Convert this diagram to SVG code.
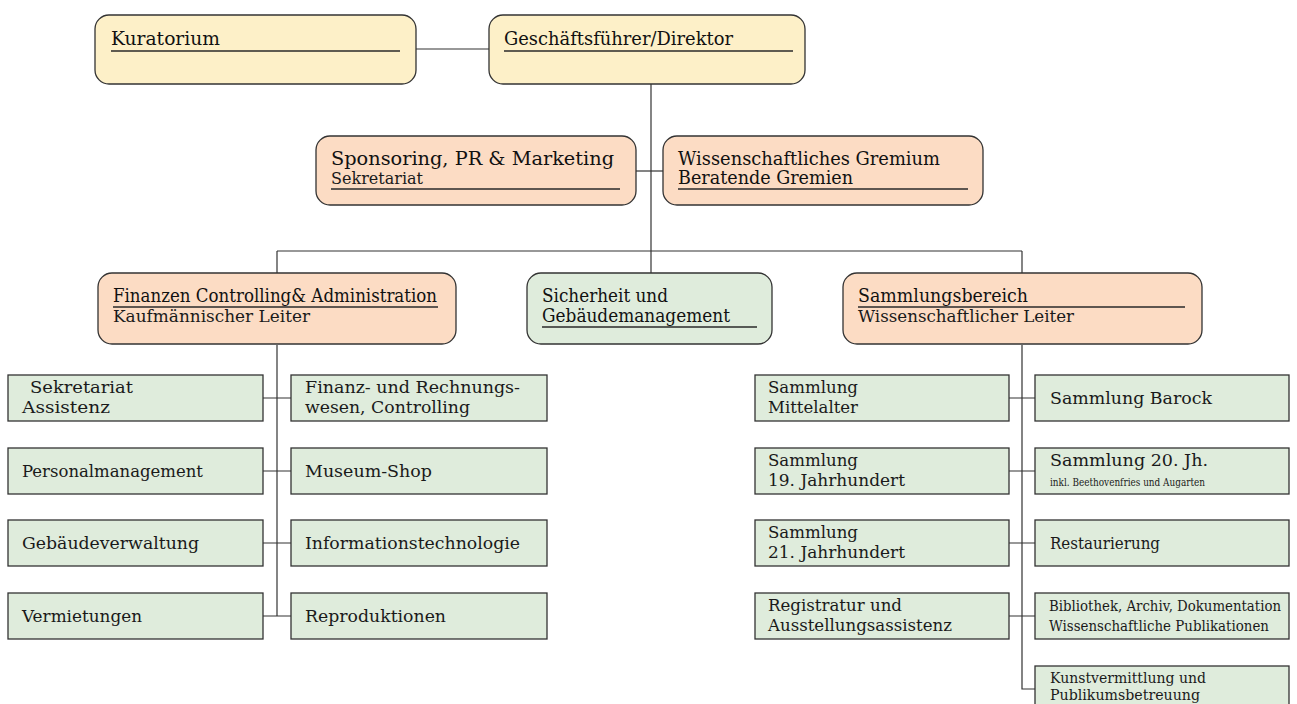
<svg xmlns="http://www.w3.org/2000/svg" width="1297" height="704" viewBox="0 0 1297 704">
<style>
.y{fill:#fdf0c8;stroke:#333333;stroke-width:1.3}
.p{fill:#fcdcc4;stroke:#333333;stroke-width:1.3}
.g{fill:#dfecdc;stroke:#333333;stroke-width:1.3}
.c{fill:none;stroke:#333333;stroke-width:1.2}
.u{stroke:#2a2a2a;stroke-width:1.4}
text{font-family:"DejaVu Serif","Liberation Serif",serif;font-size:17px;fill:#1a1a1a}
.t{font-size:18px;fill:#111111}
.s{font-size:11px}
.m{font-size:15px}
.n{font-size:14px}
</style>
<rect width="1297" height="704" fill="#ffffff"/>
<g id="connectors">
<path class="c" d="M416 49H489"/>
<path class="c" d="M651 84V273"/>
<path class="c" d="M636 171H663"/>
<path class="c" d="M277 251H1022"/>
<path class="c" d="M277 251V273"/>
<path class="c" d="M1022 251V273"/>
<path class="c" d="M277 345V616"/>
<path class="c" d="M263 398H291M263 471H291M263 543H291M263 616H291"/>
<path class="c" d="M1022 345V689H1035"/>
<path class="c" d="M1009 398H1035M1009 471H1035M1009 543H1035M1009 616H1035"/>
</g>
<g id="kuratorium">
<rect class="y" x="95" y="15" width="321" height="69" rx="14"/>
<text class="t" x="111" y="45" textLength="109" lengthAdjust="spacingAndGlyphs">Kuratorium</text>
<line class="u" x1="111" y1="51" x2="400" y2="51"/>
</g>
<g id="direktor">
<rect class="y" x="489" y="15" width="316" height="69" rx="14"/>
<text class="t" x="504" y="45" textLength="229" lengthAdjust="spacingAndGlyphs">Geschäftsführer/Direktor</text>
<line class="u" x1="504" y1="51" x2="793" y2="51"/>
</g>
<g id="sponsoring">
<rect class="p" x="316" y="136" width="320" height="69" rx="14"/>
<text class="t" x="331" y="165" textLength="283" lengthAdjust="spacingAndGlyphs">Sponsoring, PR &amp; Marketing</text>
<text x="331" y="184" textLength="92" lengthAdjust="spacingAndGlyphs">Sekretariat</text>
<line class="u" x1="331" y1="189" x2="620" y2="189"/>
</g>
<g id="gremium">
<rect class="p" x="663" y="136" width="320" height="69" rx="14"/>
<text class="t" x="678" y="165" textLength="262" lengthAdjust="spacingAndGlyphs">Wissenschaftliches Gremium</text>
<text class="t" x="678" y="184" textLength="175" lengthAdjust="spacingAndGlyphs">Beratende Gremien</text>
<line class="u" x1="678" y1="189" x2="968" y2="189"/>
</g>
<g id="finanzen">
<rect class="p" x="98" y="273" width="358" height="71" rx="14"/>
<text class="t" x="113" y="302" textLength="324" lengthAdjust="spacingAndGlyphs">Finanzen Controlling&amp; Administration</text>
<line class="u" x1="113" y1="307" x2="438" y2="307"/>
<text x="113" y="322" textLength="197" lengthAdjust="spacingAndGlyphs">Kaufmännischer Leiter</text>
</g>
<g id="sicherheit">
<rect class="g" x="527" y="273" width="245" height="71" rx="14"/>
<text class="t" x="542" y="302" textLength="126" lengthAdjust="spacingAndGlyphs">Sicherheit und</text>
<text class="t" x="542" y="322" textLength="188" lengthAdjust="spacingAndGlyphs">Gebäudemanagement</text>
<line class="u" x1="542" y1="327" x2="757" y2="327"/>
</g>
<g id="sammlungsbereich">
<rect class="p" x="843" y="273" width="359" height="71" rx="14"/>
<text class="t" x="858" y="302" textLength="170" lengthAdjust="spacingAndGlyphs">Sammlungsbereich</text>
<line class="u" x1="858" y1="307" x2="1185" y2="307"/>
<text x="858" y="322" textLength="216" lengthAdjust="spacingAndGlyphs">Wissenschaftlicher Leiter</text>
</g>
<g id="sekretariat">
<rect class="g" x="8" y="375" width="255" height="46"/>
<text x="30" y="393" textLength="103" lengthAdjust="spacingAndGlyphs">Sekretariat</text>
<text x="22" y="413" textLength="88" lengthAdjust="spacingAndGlyphs">Assistenz</text>
</g>
<g id="finanzwesen">
<rect class="g" x="291" y="375" width="256" height="46"/>
<text x="305" y="393" textLength="215" lengthAdjust="spacingAndGlyphs">Finanz- und Rechnungs-</text>
<text x="305" y="413" textLength="165" lengthAdjust="spacingAndGlyphs">wesen, Controlling</text>
</g>
<g id="personal">
<rect class="g" x="8" y="448" width="255" height="46"/>
<text x="22" y="477" textLength="181" lengthAdjust="spacingAndGlyphs">Personalmanagement</text>
</g>
<g id="shop">
<rect class="g" x="291" y="448" width="256" height="46"/>
<text x="305" y="477" textLength="127" lengthAdjust="spacingAndGlyphs">Museum-Shop</text>
</g>
<g id="gebaeude">
<rect class="g" x="8" y="520" width="255" height="46"/>
<text x="22" y="549" textLength="177" lengthAdjust="spacingAndGlyphs">Gebäudeverwaltung</text>
</g>
<g id="it">
<rect class="g" x="291" y="520" width="256" height="46"/>
<text x="305" y="549" textLength="215" lengthAdjust="spacingAndGlyphs">Informationstechnologie</text>
</g>
<g id="vermietungen">
<rect class="g" x="8" y="593" width="255" height="46"/>
<text x="22" y="622" textLength="120" lengthAdjust="spacingAndGlyphs">Vermietungen</text>
</g>
<g id="reproduktionen">
<rect class="g" x="291" y="593" width="256" height="46"/>
<text x="305" y="622" textLength="141" lengthAdjust="spacingAndGlyphs">Reproduktionen</text>
</g>
<g id="mittelalter">
<rect class="g" x="755" y="375" width="254" height="46"/>
<text x="768" y="393" textLength="90" lengthAdjust="spacingAndGlyphs">Sammlung</text>
<text x="768" y="413" textLength="90" lengthAdjust="spacingAndGlyphs">Mittelalter</text>
</g>
<g id="barock">
<rect class="g" x="1035" y="375" width="254" height="46"/>
<text x="1050" y="404" textLength="162" lengthAdjust="spacingAndGlyphs">Sammlung Barock</text>
</g>
<g id="jh19">
<rect class="g" x="755" y="448" width="254" height="46"/>
<text x="768" y="466" textLength="90" lengthAdjust="spacingAndGlyphs">Sammlung</text>
<text x="768" y="486" textLength="137" lengthAdjust="spacingAndGlyphs">19. Jahrhundert</text>
</g>
<g id="jh20">
<rect class="g" x="1035" y="448" width="254" height="46"/>
<text x="1050" y="466" textLength="158" lengthAdjust="spacingAndGlyphs">Sammlung 20. Jh.</text>
<text class="s" x="1050" y="486" textLength="155" lengthAdjust="spacingAndGlyphs">inkl. Beethovenfries und Augarten</text>
</g>
<g id="jh21">
<rect class="g" x="755" y="520" width="254" height="46"/>
<text x="768" y="538" textLength="90" lengthAdjust="spacingAndGlyphs">Sammlung</text>
<text x="768" y="558" textLength="137" lengthAdjust="spacingAndGlyphs">21. Jahrhundert</text>
</g>
<g id="restaurierung">
<rect class="g" x="1035" y="520" width="254" height="46"/>
<text x="1050" y="549" textLength="110" lengthAdjust="spacingAndGlyphs">Restaurierung</text>
</g>
<g id="registratur">
<rect class="g" x="755" y="593" width="254" height="46"/>
<text x="768" y="611" textLength="134" lengthAdjust="spacingAndGlyphs">Registratur und</text>
<text x="768" y="631" textLength="184" lengthAdjust="spacingAndGlyphs">Ausstellungsassistenz</text>
</g>
<g id="bibliothek">
<rect class="g" x="1035" y="593" width="254" height="46"/>
<text class="n" x="1049" y="611" textLength="232" lengthAdjust="spacingAndGlyphs">Bibliothek, Archiv, Dokumentation</text>
<text class="m" x="1049" y="631" textLength="220" lengthAdjust="spacingAndGlyphs">Wissenschaftliche Publikationen</text>
</g>
<g id="kunstvermittlung">
<rect class="g" x="1035" y="666" width="254" height="46"/>
<text class="m" x="1050" y="683" textLength="156" lengthAdjust="spacingAndGlyphs">Kunstvermittlung und</text>
<text class="m" x="1050" y="700" textLength="150" lengthAdjust="spacingAndGlyphs">Publikumsbetreuung</text>
</g>
</svg>
